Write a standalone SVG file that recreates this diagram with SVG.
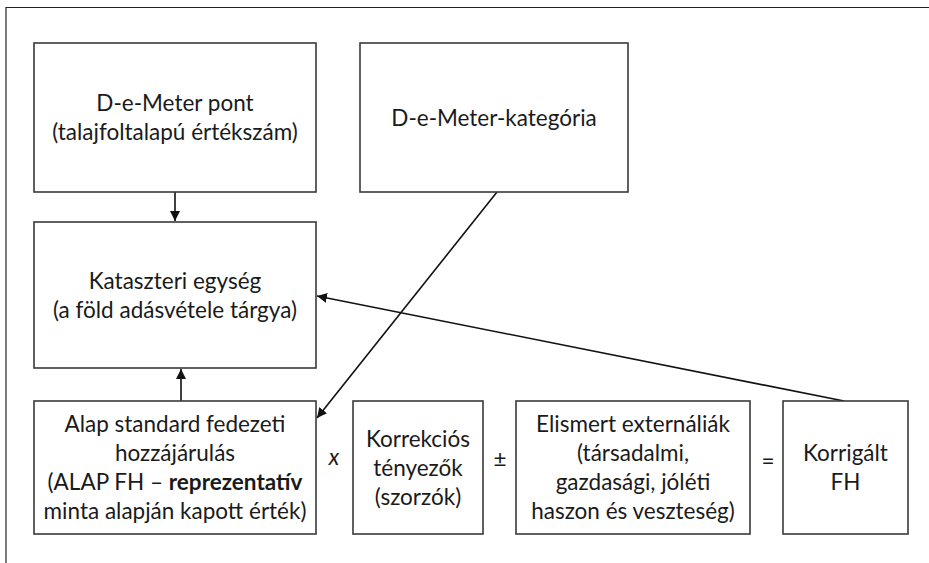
<svg xmlns="http://www.w3.org/2000/svg" width="929" height="563" viewBox="0 0 929 563">
<style>
.box{fill:#fff;stroke:#3a3a3a;stroke-width:1.6}
.t{font-family:Lato,"Liberation Sans",sans-serif;font-size:22.5px;fill:#1a1a1a;text-anchor:middle}
.b{font-weight:bold}
.c{stroke:#111;stroke-width:1.6;fill:none}
</style>
<defs>
<marker id="ah" viewBox="0 0 10 10" refX="10" refY="5" markerWidth="10" markerHeight="10" markerUnits="userSpaceOnUse" orient="auto">
<path d="M0,0 L10,5 L0,10 z" fill="#111"/>
</marker>
</defs>
<rect width="929" height="563" fill="#fff"/>
<path d="M6,563 L6,7.5 L929,7.5" fill="none" stroke="#222" stroke-width="1.2"/>
<g id="connectors">
<line class="c" x1="175" y1="192" x2="175" y2="221" marker-end="url(#ah)"/>
<line class="c" x1="181" y1="401" x2="181" y2="369" marker-end="url(#ah)"/>
<line class="c" x1="497" y1="192" x2="317" y2="418" marker-end="url(#ah)"/>
<line class="c" x1="844" y1="401" x2="317" y2="296" marker-end="url(#ah)"/>
</g>
<g id="n1">
<rect class="box" x="34" y="43" width="282" height="149"/>
<text class="t" x="175" y="111">D-e-Meter pont</text>
<text class="t" x="175" y="140">(talajfoltalapú értékszám)</text>
</g>
<g id="n2">
<rect class="box" x="360" y="43" width="268" height="149"/>
<text class="t" x="494" y="126">D-e-Meter-kategória</text>
</g>
<g id="n3">
<rect class="box" x="34" y="222" width="282" height="146"/>
<text class="t" x="175" y="289">Kataszteri egység</text>
<text class="t" x="175" y="318">(a föld adásvétele tárgya)</text>
</g>
<g id="n4">
<rect class="box" x="34" y="401" width="282" height="133"/>
<text class="t" x="175" y="432">Alap standard fedezeti</text>
<text class="t" x="175" y="461">hozzájárulás</text>
<text class="t" x="175" y="490">(ALAP FH – <tspan class="b">reprezentatív</tspan></text>
<text class="t" x="175" y="519">minta alapján kapott érték)</text>
</g>
<g id="n5">
<rect class="box" x="353" y="401" width="130" height="133"/>
<text class="t" x="418" y="447">Korrekciós</text>
<text class="t" x="418" y="476">tényezők</text>
<text class="t" x="418" y="505">(szorzók)</text>
</g>
<g id="n6">
<rect class="box" x="516" y="401" width="234" height="133"/>
<text class="t" x="633" y="432">Elismert externáliák</text>
<text class="t" x="633" y="461">(társadalmi,</text>
<text class="t" x="633" y="490">gazdasági, jóléti</text>
<text class="t" x="633" y="519">haszon és veszteség)</text>
</g>
<g id="n7">
<rect class="box" x="783" y="401" width="125" height="133"/>
<text class="t" x="845.5" y="461">Korrigált</text>
<text class="t" x="845.5" y="490">FH</text>
</g>
<g id="ops">
<text class="t" x="334" y="465" style="font-style:italic">x</text>
<text class="t" x="500" y="467">±</text>
<text class="t" x="768" y="469">=</text>
</g>
</svg>
